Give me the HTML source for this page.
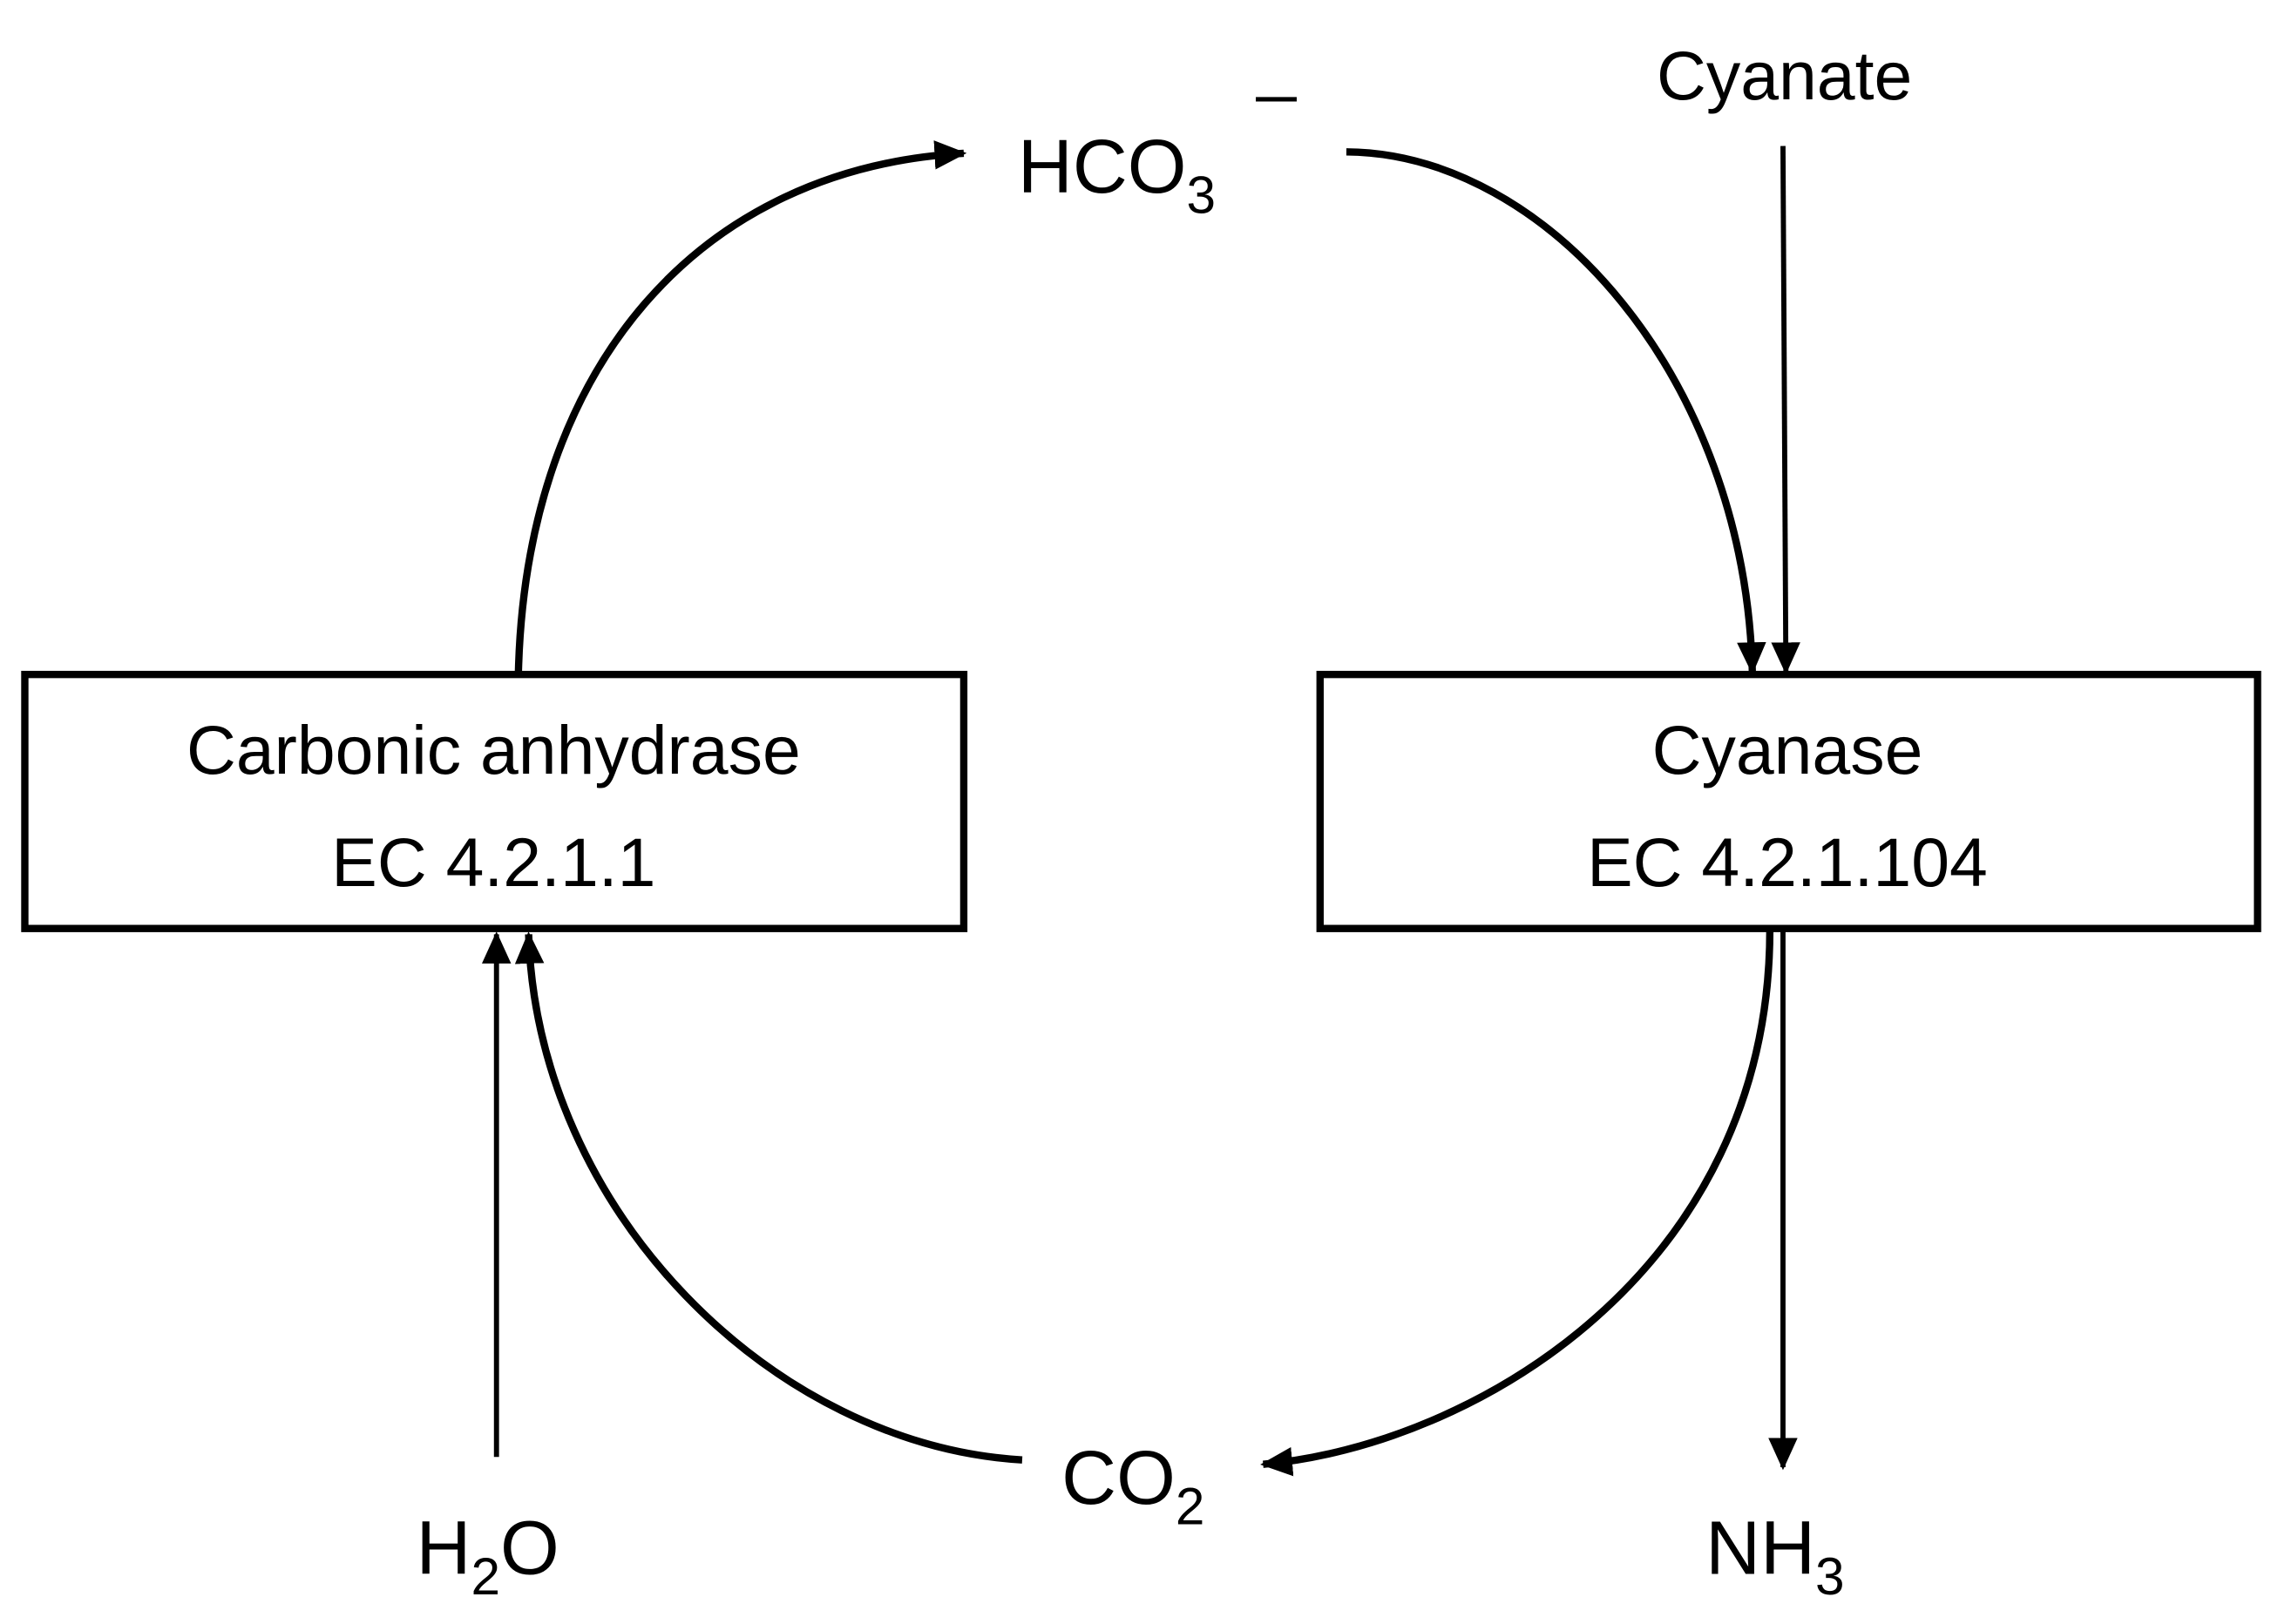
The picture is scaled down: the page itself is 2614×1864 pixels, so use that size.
<!DOCTYPE html>
<html><head><meta charset="utf-8"><style>
html,body{margin:0;padding:0;background:#fff;}
svg{display:block;}
text{font-family:"Liberation Sans",sans-serif;fill:#000;}
</style></head><body>
<svg width="2614" height="1864" viewBox="0 0 1560 1112.4" preserveAspectRatio="none" xmlns="http://www.w3.org/2000/svg">
<defs>
<marker id="a" markerWidth="10" markerHeight="10" refX="8" refY="5" orient="auto" markerUnits="userSpaceOnUse" viewBox="0 0 10 10">
<path d="M0,0 L10,5 L0,10 Z" fill="#000"/></marker>
<marker id="b" markerWidth="22" markerHeight="20" refX="20" refY="10" orient="auto" markerUnits="userSpaceOnUse" viewBox="0 0 22 20">
<path d="M0,0 L22,10 L0,20 Z" fill="#000"/></marker>
</defs>
<rect x="17" y="462" width="643" height="174" fill="none" stroke="#000" stroke-width="5"/>
<rect x="904" y="462" width="642" height="174" fill="none" stroke="#000" stroke-width="5"/>
<g font-size="47" text-anchor="middle">
<text x="338" y="530">Carbonic anhydrase</text>
<text x="338" y="607">EC 4.2.1.1</text>
<text x="1224" y="530">Cyanase</text>
<text x="1224" y="607">EC 4.2.1.104</text>
<text x="1222" y="68">Cyanate</text>
</g>
<g font-size="52">
<text x="697" y="132">HCO<tspan font-size="36" dy="14">3</tspan></text>
<text x="727" y="1030">CO<tspan font-size="36" dy="14">2</tspan></text>
<text x="285" y="1078">H<tspan font-size="36" dy="14">2</tspan><tspan dy="-14">O</tspan></text>
<text x="1168" y="1078">NH<tspan font-size="36" dy="14">3</tspan></text>
</g>
<line x1="860" y1="68" x2="888" y2="68" stroke="#000" stroke-width="3"/>
<g fill="none" stroke="#000">
<path d="M355 461 C 360 250, 480 115, 660 105" stroke-width="5" marker-end="url(#b)"/>
<path d="M922 104 C 1060 105, 1195 260, 1200 460" stroke-width="5" marker-end="url(#b)"/>
<path d="M1212 637 C 1212 870, 1010 990, 865 1003" stroke-width="5" marker-end="url(#b)"/>
<path d="M700 1000 C 530 990, 368 830, 362 640" stroke-width="5" marker-end="url(#b)"/>
<line x1="1221" y1="100" x2="1223" y2="460" stroke-width="3.5" marker-end="url(#b)"/>
<line x1="340" y1="998" x2="340" y2="640" stroke-width="3.5" marker-end="url(#b)"/>
<line x1="1221" y1="637" x2="1221" y2="1005" stroke-width="3.5" marker-end="url(#b)"/>
</g>
</svg>
</body></html>
